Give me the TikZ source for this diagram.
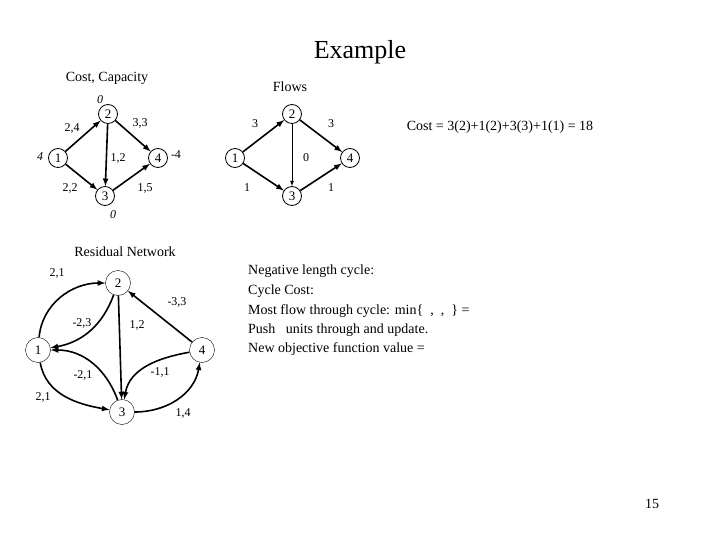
\documentclass[tikz,border=0pt]{standalone}
\usepackage{fontspec}
\setmainfont{Liberation Serif}
\begin{document}
\begin{tikzpicture}[x=1pt,y=-1pt,
  nd/.style={circle,draw,thick,minimum size=19pt,inner sep=0pt,font=\fontsize{13}{13}\selectfont},
  rn/.style={circle,draw,thin,minimum size=25pt,inner sep=0pt,font=\fontsize{13}{13}\selectfont},
  ar/.style={-latex,line width=1.6pt},
  tn/.style={-latex,line width=0.8pt},
  lb/.style={font=\fontsize{12}{12}\selectfont,inner sep=0pt},
  il/.style={font=\fontsize{12}{12}\selectfont\itshape,inner sep=0pt},
  tx/.style={font=\fontsize{14}{14}\selectfont,inner sep=0pt}]
\useasboundingbox (0,0) rectangle (720,540);
\node[font=\fontsize{26}{26}\selectfont] (title) at (360,52) {Example};
\node[tx] (cc) at (107,78) {Cost, Capacity};
\node[tx] (fl) at (290,87) {Flows};
% graph 1
\node[nd] (a1) at (58,158) {1};
\node[nd] (a2) at (108,114) {2};
\node[nd] (a3) at (105,196) {3};
\node[nd] (a4) at (158,158) {4};
\draw[ar] (a1)--(a2); \draw[ar] (a1)--(a3); \draw[ar] (a2)--(a3);
\draw[ar] (a2)--(a4); \draw[ar] (a3)--(a4);
\node[il] (s1) at (40,157) {4};
\node[il] (s2) at (100,100) {0};
\node[il] (s3) at (113,215) {0};
\node[lb] (s4) at (176,155) {-4};
\node[lb] (e1) at (72,128) {2,4};
\node[lb] (e2) at (140,123) {3,3};
\node[lb] (e3) at (118,158) {1,2};
\node[lb] (e4) at (70,188) {2,2};
\node[lb] (e5) at (145,188) {1,5};
% graph 2
\node[nd] (b1) at (235,158) {1};
\node[nd] (b2) at (292,114) {2};
\node[nd] (b3) at (292,196) {3};
\node[nd] (b4) at (350,158) {4};
\draw[ar] (b1)--(b2); \draw[ar] (b1)--(b3); \draw[tn] (b2)--(b3);
\draw[ar] (b2)--(b4); \draw[ar] (b3)--(b4);
\node[lb] (f1) at (255,124) {3};
\node[lb] (f2) at (331,124) {3};
\node[lb] (f3) at (306,158) {0};
\node[lb] (f4) at (247,188) {1};
\node[lb] (f5) at (331,188) {1};
\node[tx] (cost) at (500,127) {Cost = 3(2)+1(2)+3(3)+1(1) = 18};
% residual
\node[tx] (rt) at (125,252) {Residual Network};
\node[rn] (r1) at (38,350) {1};
\node[rn] (r2) at (118,283) {2};
\node[rn] (r3) at (122,412) {3};
\node[rn] (r4) at (202,350) {4};
\draw[ar] (r1) to[out=85,in=180] (r2);
\draw[ar] (r2) to[out=250,in=10] (r1);
\draw[ar] (r2)--(r3);
\draw[ar] (r4)--(r2);
\draw[ar] (r3) to[out=110,in=0] (r1);
\draw[ar] (r4) to[out=190,in=80] (r3);
\draw[ar] (r1) to[out=280,in=170] (r3);
\draw[ar] (r3) to[out=0,in=260] (r4);
\node[lb] (g1) at (57,273) {2,1};
\node[lb] (g2) at (82,323) {-2,3};
\node[lb] (g3) at (137,325) {1,2};
\node[lb] (g4) at (177,302) {-3,3};
\node[lb] (g5) at (83,375) {-2,1};
\node[lb] (g6) at (160,372) {-1,1};
\node[lb] (g7) at (43,397) {2,1};
\node[lb] (g8) at (183,413) {1,4};
% text
\node[tx,anchor=west] (t1) at (248,271) {Negative length cycle:};
\node[tx,anchor=west] (t2) at (248,291) {Cycle Cost:};
\node[tx,anchor=west] (t3) at (248,311) {Most flow through cycle: min\{ \ , \ , \ \} =};
\node[tx,anchor=west] (t4) at (248,330) {Push \ \ units through and update.};
\node[tx,anchor=west] (t5) at (248,349) {New objective function value =};
\node[tx] (pg) at (652,504) {15};
\end{tikzpicture}
\end{document}
